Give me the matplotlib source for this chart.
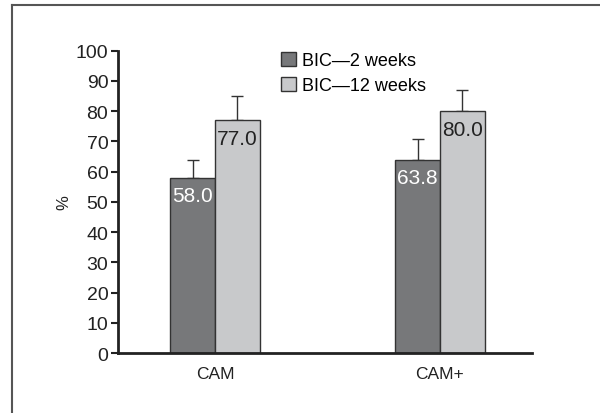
import numpy as np
import matplotlib.pyplot as plt
from matplotlib.lines import Line2D

plt.rcParams["font.family"] = ["Liberation Sans", "DejaVu Sans"]

groups = ["CAM", "CAM+"]
series_names = ["BIC\u20142 weeks", "BIC\u201412 weeks"]
week2 = [58.0, 63.8]
week12 = [77.0, 80.0]
week2_err = [6.0, 7.0]
week12_err = [8.0, 7.0]
yticks = [0, 10, 20, 30, 40, 50, 60, 70, 80, 90, 100]

colors = ["#77787a", "#c8c9cb"]
text_colors = ["white", "#222222"]

fig = plt.figure(figsize=(6.0, 4.14), dpi=100)
ax = fig.add_axes([0.1967, 0.1449, 0.69, 0.7302])

x = np.arange(len(groups))
width = 0.198
for i, (vals, errs) in enumerate([(week2, week2_err), (week12, week12_err)]):
    pos = x + (i - 0.5) * width
    bars = ax.bar(pos, vals, width, color=colors[i], edgecolor="#333333",
                  linewidth=1.0, label=series_names[i], zorder=2)
    ax.errorbar(pos, vals, yerr=[np.zeros(len(errs)), errs], fmt="none",
                ecolor="#333333", elinewidth=1.0, capsize=4, capthick=1.0, zorder=1)
    for b, v in zip(bars, vals):
        ax.annotate(f"{v:.1f}", (b.get_x() + b.get_width() / 2, v),
                    xytext=(0, -6), textcoords="offset points",
                    ha="center", va="top", fontsize=15, color=text_colors[i], zorder=3)

ax.set_xlim(-0.431, 1.409)
ax.set_ylim(0, 100)
ax.set_yticks(yticks)
ax.set_xticks(x)
ax.set_xticklabels(groups, fontsize=12.5, color="#222222")
ax.tick_params(axis="x", length=0, pad=9)
ax.tick_params(axis="y", length=5, width=1.5, labelsize=14, colors="#222222", pad=2)
ax.set_ylabel("%", fontsize=12, color="#222222", labelpad=3)

for side in ["top", "right"]:
    ax.spines[side].set_visible(False)
for side in ["left", "bottom"]:
    ax.spines[side].set_linewidth(2)
    ax.spines[side].set_color("#222222")

ax.legend(loc="upper left", bbox_to_anchor=(0.469, 0.872), bbox_transform=fig.transFigure,
          frameon=False, fontsize=13, handlelength=0.8, handleheight=0.8,
          handletextpad=0.35, labelspacing=0.42, borderpad=0, borderaxespad=0)

# partial frame around the figure
fig.add_artist(Line2D([0.02, 0.02], [0.0, 0.9855], transform=fig.transFigure,
                      color="#555555", linewidth=1.5))
fig.add_artist(Line2D([0.02, 1.0], [0.9855, 0.9855], transform=fig.transFigure,
                      color="#555555", linewidth=1.5))

fig.savefig("out.png", dpi=100)
